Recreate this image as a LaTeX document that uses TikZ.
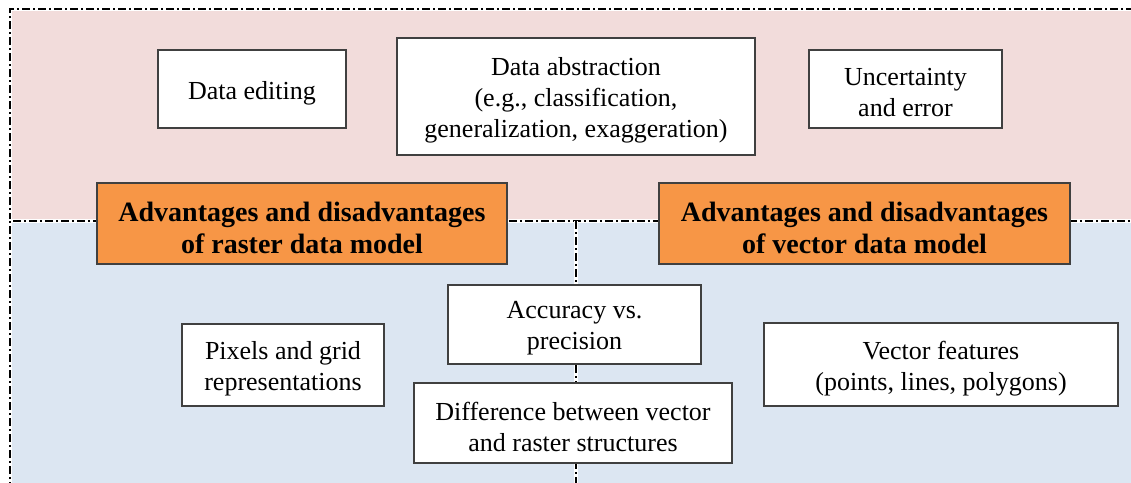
\documentclass[tikz,border=0pt]{standalone}
\usepackage{fontspec}
\setmainfont{Liberation Serif}
\usetikzlibrary{positioning}

\definecolor{toppink}{HTML}{F2DCDB}
\definecolor{lowblue}{HTML}{DCE6F2}
\definecolor{modelorange}{HTML}{F79646}

\tikzset{
  topicbox/.style={draw=black!75,line width=1.3pt,fill=white,inner sep=0pt},
  topictext/.style={align=center,inner sep=0pt,yshift=-4pt,font=\fontsize{26}{31}\selectfont},
  modelbox/.style={topicbox,fill=modelorange},
  modeltext/.style={topictext,font=\fontsize{28}{32}\selectfont\bfseries},
  areaborder/.style={line width=2pt,dash pattern=on 8pt off 3pt on 2pt off 3pt,
    preaction={draw=white,solid,line width=4.5pt}}
}

\begin{document}
\begin{tikzpicture}[x=1pt,y=-1pt]
    \useasboundingbox (0,0) rectangle (1131,482);

    % areas
    \fill[toppink] (10,9) rectangle (1140,221);
    \fill[lowblue] (10,221) rectangle (576,490);
    \fill[lowblue] (576,221) rectangle (1140,490);
    \draw[areaborder] (10,221) -- (10,9) -- (1140,9);
    \draw[areaborder] (10,490) -- (10,221) -- (1140,221);
    \draw[areaborder] (576,221) -- (576,490);

    % top row
    \node[topicbox,minimum width=188pt,minimum height=78pt,
      label={[topictext]center:Data editing}] (edit) at (252,89) {};
    \node[topicbox,minimum width=358pt,minimum height=117pt,
      label={[topictext]center:{Data abstraction\\(e.g., classification,\\generalization, exaggeration)}}] (abstr) at (576,96.5) {};
    \node[topicbox,minimum width=193pt,minimum height=78pt,
      label={[topictext]center:{Uncertainty\\and error}}] (uncert) at (905.5,89) {};

    % models
    \node[modelbox,minimum width=410pt,minimum height=81pt,
      label={[modeltext]center:{Advantages and disadvantages\\of raster data model}}] (raster) at (302,223.5) {};
    \node[modelbox,minimum width=411pt,minimum height=81pt,
      label={[modeltext]center:{Advantages and disadvantages\\of vector data model}}] (vector) at (864.5,223.5) {};

    % lower row
    \node[topicbox,minimum width=202pt,minimum height=82pt,
      label={[topictext]center:{Pixels and grid\\representations}}] (pixels) at (283,365) {};
    \node[topicbox,minimum width=253pt,minimum height=79pt,
      label={[topictext]center:{Accuracy vs.\\precision}}] (accur) at (574.5,324.5) {};
    \node[topicbox,minimum width=318pt,minimum height=80pt,
      label={[topictext]center:{Difference between vector\\and raster structures}}] (diff) at (573,423) {};
    \node[topicbox,minimum width=354pt,minimum height=83pt,
      label={[topictext]center:{Vector features\\(points, lines, polygons)}}] (feat) at (941,364.5) {};
\end{tikzpicture}
\end{document}
